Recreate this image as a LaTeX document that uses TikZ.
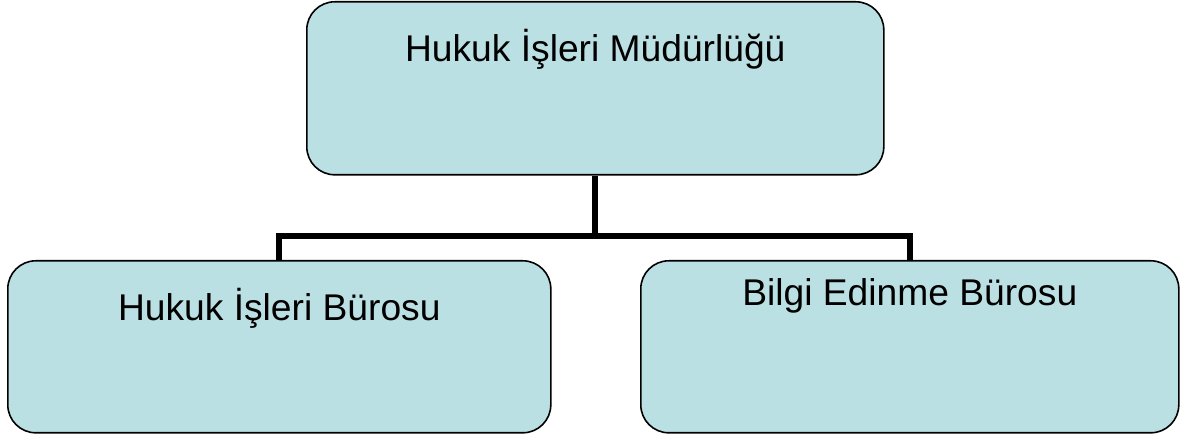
\documentclass[tikz,border=0pt]{standalone}
\usepackage{fontspec}
\setmainfont{Liberation Sans}
\usepackage{tikz}
\usetikzlibrary{positioning}

\definecolor{boxfill}{RGB}{187,224,227}

\begin{document}
\begin{tikzpicture}[line join=miter,font=\fontsize{18.6}{22}\selectfont]
  \tikzstyle{unit}=[draw=black,line width=0.8pt,fill=boxfill,rounded corners=14pt,
                    anchor=north west,inner xsep=0pt,inner ysep=0pt,text=black]
  \tikzstyle{link}=[draw=black,line width=3pt]

  \useasboundingbox (0,0) rectangle (590pt,-218.5pt);

  \node[unit,minimum width=288.5pt,text height=30pt,text depth=56.5pt] (mudur)  at (153pt,-0.5pt) {Hukuk İşleri Müdürlüğü};
  \node[unit,minimum width=271.5pt,text height=30pt,text depth=56pt]   (hukuk)  at (3.5pt,-130pt) {Hukuk İşleri Bürosu};
  \node[unit,minimum width=269pt,text height=22.5pt,text depth=63.5pt] (bilgi)  at (320pt,-130pt) {Bilgi Edinme Bürosu};

  \coordinate (bus) at (mudur.south |- 0,-118.25pt);

  \draw[link] (mudur.south) -- (bus);
  \draw[link] (hukuk.north) |- (bus) -| (bilgi.north);
\end{tikzpicture}
\end{document}
